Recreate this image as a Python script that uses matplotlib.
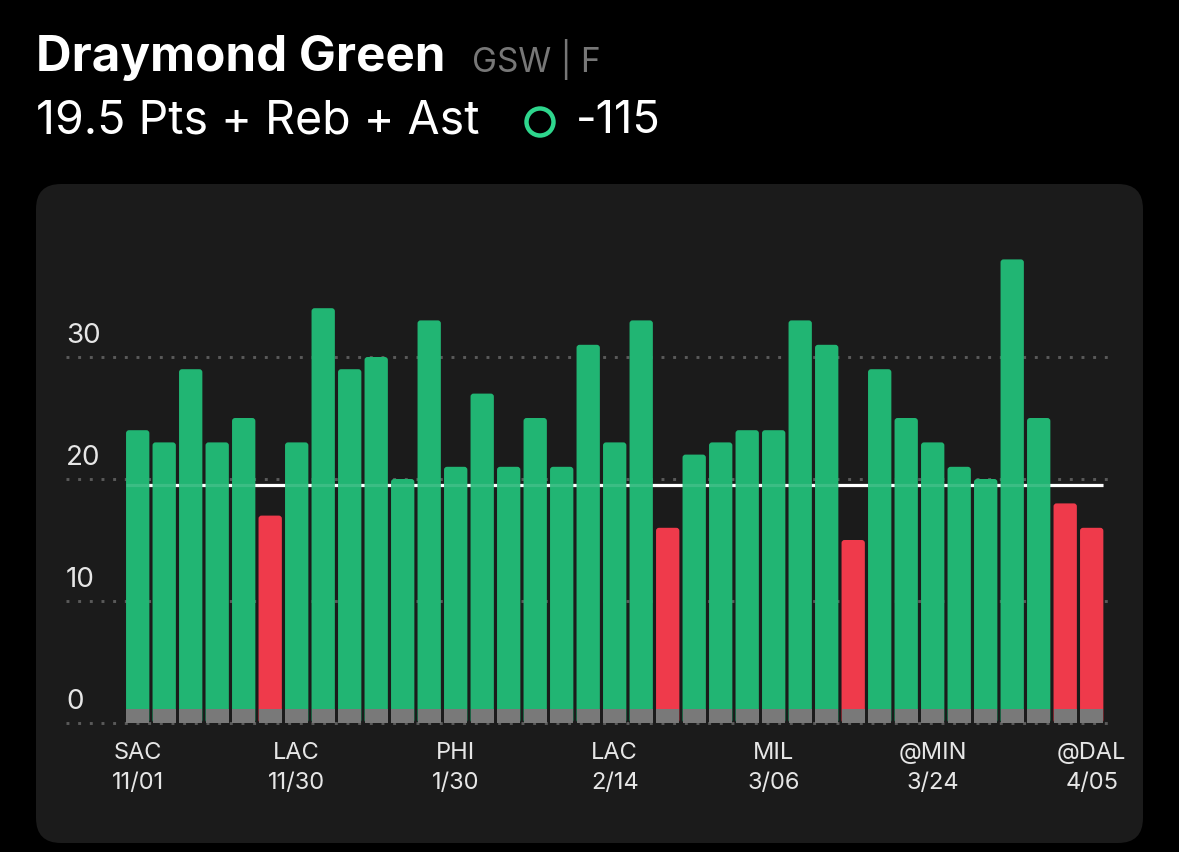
import matplotlib
matplotlib.use("Agg")
import matplotlib.pyplot as plt
from matplotlib.patches import FancyBboxPatch, Circle
import matplotlib.transforms as mtransforms

# ---- data ----
values = [24, 23, 29, 23, 25, 17, 23, 34, 29, 30, 20, 33, 21, 27, 21, 25, 21, 31,
          23, 33, 16, 22, 23, 24, 24, 33, 31, 15, 29, 25, 23, 21, 20, 38, 25, 18, 16]
line_value = 19.5
tick_idx = [0, 6, 12, 18, 24, 30, 36]
tick_opp = ["SAC", "LAC", "PHI", "LAC", "MIL", "@MIN", "@DAL"]
tick_date = ["11/01", "11/30", "1/30", "2/14", "3/06", "3/24", "4/05"]
y_ticks = [0, 10, 20, 30]
player = "Draymond Green"
team_pos = "GSW | F"
prop = "19.5 Pts + Reb + Ast"
odds = "-115"

GREEN = "#21b573"
RED = "#ef3a4b"
GRAY = "#797979"
PANEL = "#1b1b1b"
FONT = ["Inter", "DejaVu Sans"]

W, H = 1179, 852
fig = plt.figure(figsize=(W / 100, H / 100), dpi=100, facecolor="black")

# background axes in pixel coordinates
bg = fig.add_axes([0, 0, 1, 1])
bg.set_xlim(0, W)
bg.set_ylim(H, 0)
bg.axis("off")
bg.add_patch(FancyBboxPatch((36 + 25, 184 + 25), 1107 - 50, 659 - 50,
                            boxstyle="round,pad=25", fc=PANEL, ec="none"))
bg.text(36, 58, player, color="white", fontsize=35.5, fontweight="bold",
        family=FONT, va="center", ha="left")
bg.text(472, 60, team_pos, color="#777777", fontsize=24, family=FONT,
        va="center", ha="left")
bg.text(36, 121, prop, color="white", fontsize=33.5, family=FONT,
        va="center", ha="left")
bg.add_patch(Circle((540, 122), 13.5, fill=False, ec="#2ed68d", lw=3.2))
bg.text(576, 121, odds, color="white", fontsize=32.5, family=FONT,
        va="center", ha="left")

# chart axes
left_px, right_px = 66, 1115
bottom_px, top_px = 723, 230
ax = fig.add_axes([left_px / W, 1 - bottom_px / H,
                   (right_px - left_px) / W, (bottom_px - top_px) / H])
ax.set_facecolor("none")
spacing = 26.5
c0 = 137.7
px_per_y = 12.2
ax.set_xlim((left_px - c0) / spacing, (right_px - c0) / spacing)
ax.set_ylim(0, (bottom_px - top_px) / px_per_y)
ax.axis("off")

x = list(range(len(values)))
colors = [GREEN if v > line_value else RED for v in values]

# grid (dotted)
ytr = mtransforms.blended_transform_factory(ax.transAxes, ax.transData)
for yv in y_ticks:
    ax.axhline(yv, color="#5a5a5a", lw=2.1, ls=(0, (1, 3.0)), zorder=1,
               clip_on=False)
    ax.text(0.0, yv + 1.75, str(yv), transform=ytr, color="#e6e6e6",
            fontsize=20, family=FONT, va="center", ha="left")

bw = 0.88
ax.hlines(line_value, -bw / 2, len(values) - 1 + bw / 2, color="white", lw=2.3, zorder=2)

# bars with slightly rounded corners
bars = ax.bar(x, values, width=bw, color=colors, zorder=3)
r_x = 3.0 / spacing
aspect = spacing / px_per_y
for p in bars.patches:
    fb = FancyBboxPatch((p.get_x(), p.get_y()), p.get_width(), p.get_height(),
                        boxstyle=f"round,pad=0,rounding_size={r_x}",
                        mutation_aspect=aspect, fc=p.get_facecolor(), ec="none",
                        zorder=3)
    ax.add_patch(fb)
    p.set_visible(False)

ax.bar(x, [1.15] * len(values), width=bw, color=GRAY, zorder=4)
ax.hlines(line_value, -bw / 2, len(values) - 1 + bw / 2, color="white", lw=2.3,
          alpha=0.12, zorder=5)

tr = mtransforms.blended_transform_factory(ax.transData, ax.transAxes)
for i, o, d in zip(tick_idx, tick_opp, tick_date):
    ax.text(i, -30 / (bottom_px - top_px), o, transform=tr, color="#e6e6e6",
            fontsize=17, family=FONT, ha="center", va="center")
    ax.text(i, -60 / (bottom_px - top_px), d, transform=tr, color="#e6e6e6",
            fontsize=17, family=FONT, ha="center", va="center")

fig.savefig("out.png", dpi=100, facecolor="black")
